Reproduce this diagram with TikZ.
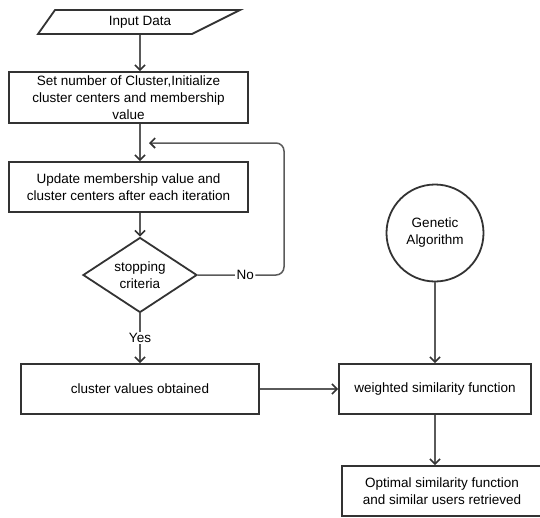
\documentclass[tikz,border=0pt]{standalone}
\usepackage{fontspec}
\setmainfont{Liberation Sans}
\usetikzlibrary{shapes.geometric,arrows.meta}

\definecolor{edge}{HTML}{333333}
\definecolor{wire}{HTML}{5A5A5A}

\tikzset{
  box/.style={draw=edge, line width=1.8pt, align=center, inner sep=0pt,
    font=\fontsize{13.5}{17}\selectfont},
  arr/.style={draw=wire, line width=1.5pt,
    -{Straight Barb[length=5pt,width=10pt,line width=1.6pt,color=edge]}},
  lbl/.style={fill=white, inner sep=1.5pt, font=\fontsize{13.5}{17}\selectfont}
}

\begin{document}
\begin{tikzpicture}[x=1pt, y=-1pt]
\clip (0,0) rectangle (540,517);

\draw[draw=edge, line width=1.8pt] (55,10) -- (240,10) -- (192,34) -- (38,34) -- cycle;
\node[box, draw=none, minimum width=100pt, minimum height=24pt] (input) at (140,22)
  {Input Data};

\node[box, minimum width=239pt, minimum height=51pt] (init) at (128.5,97.5)
  {Set number of Cluster,Initialize\\cluster centers and membership\\value};

\node[box, minimum width=239pt, minimum height=50pt] (update) at (128.5,187)
  {Update membership value and\\cluster centers after each iteration};

\node[box, diamond, aspect=1.52, minimum width=114pt, minimum height=75pt]
  (stop) at (140,275) {stopping\\criteria};

\node[box, minimum width=238pt, minimum height=50pt] (values) at (140,389)
  {cluster values obtained};

\node[box, circle, minimum size=97pt] (ga) at (435,233) {Genetic\\Algorithm};

\node[box, minimum width=192pt, minimum height=50pt] (weighted) at (435,389)
  {weighted similarity function};

\node[box, minimum width=200pt, minimum height=50pt] (optimal) at (442,491)
  {Optimal similarity function\\and similar users retrieved};

\coordinate (turn) at (284,143);
\coordinate (loopend) at (149,143);

\draw[arr] (input.south) -- (input.south |- init.north);
\draw[arr] (stop.north |- init.south) -- (stop.north |- update.north);
\draw[arr] (stop.north |- update.south) -- (stop.north);
\draw[arr, rounded corners=8pt] (stop.east) -- node[lbl, pos=0.55] {No}
  (stop.east -| turn) -- (turn) -- (loopend);
\draw[arr] (stop.south) -- node[lbl] {Yes} (stop.south |- values.north);
\draw[arr] (values.east) -- (weighted.west);
\draw[arr] (ga.south) -- (weighted.north);
\draw[arr] (weighted.south) -- (weighted.south |- optimal.north);

\end{tikzpicture}
\end{document}
